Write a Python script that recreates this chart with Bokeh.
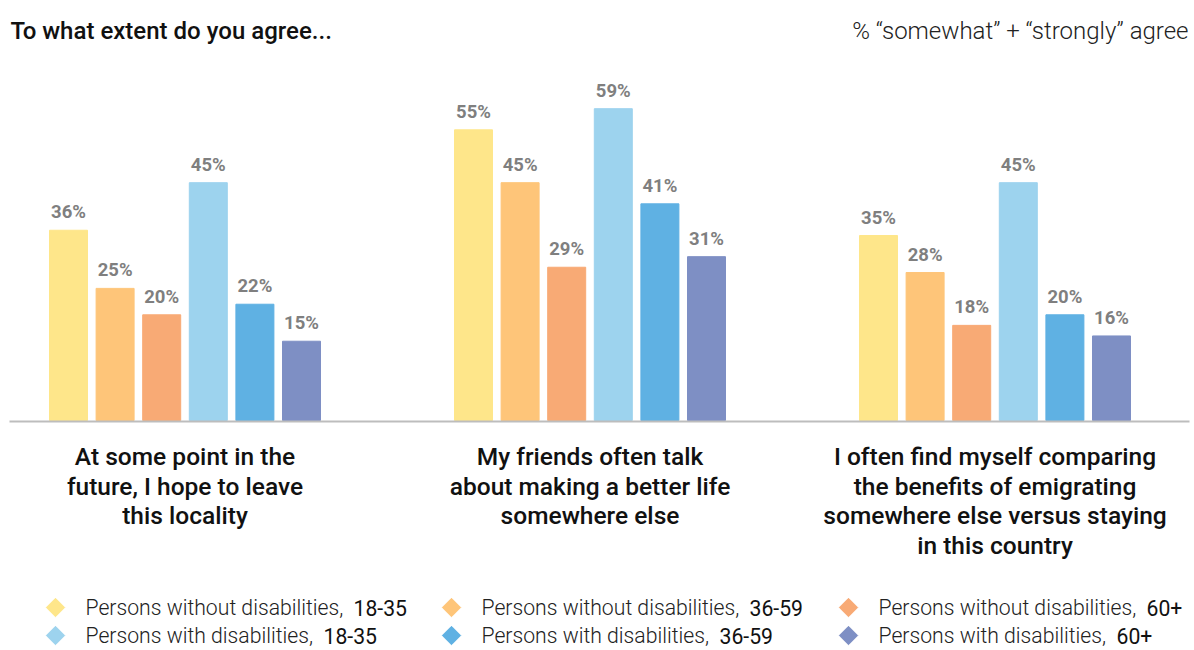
from bokeh.plotting import figure
from bokeh.models import ColumnDataSource, Range1d
from bokeh.core.properties import value
from bokeh.embed import file_html
from bokeh.resources import INLINE
import math

# ---------------- data ----------------
title = "To what extent do you agree..."
subtitle = "% \u201csomewhat\u201d + \u201cstrongly\u201d agree"
categories = [
    ["At some point in the", "future, I hope to leave", "this locality"],
    ["My friends often talk", "about making a better life", "somewhere else"],
    ["I often find myself comparing", "the benefits of emigrating",
     "somewhere else versus staying", "in this country"],
]
series_names = [
    ("Persons without disabilities, ", "18-35"),
    ("Persons without disabilities, ", "36-59"),
    ("Persons without disabilities, ", "60+"),
    ("Persons with disabilities, ", "18-35"),
    ("Persons with disabilities, ", "36-59"),
    ("Persons with disabilities, ", "60+"),
]
without_18_35 = [36, 55, 35]
without_36_59 = [25, 45, 28]
without_60p = [20, 29, 18]
with_18_35 = [45, 59, 45]
with_36_59 = [22, 41, 20]
with_60p = [15, 31, 16]
series_values = [without_18_35, without_36_59, without_60p,
                 with_18_35, with_36_59, with_60p]
colors = ["#FEE68A", "#FEC579", "#F8AA75", "#9DD3EE", "#5FB1E3", "#7E8FC4"]

# ---------------- layout helpers ----------------
W, H = 1194, 650
G0 = 184.5      # pixel x of first group center
PX = 405.0      # pixels per group
BASE = 420.0    # pixel y of 0%
PPP = 5.285     # pixels per percent
PITCH = 46.6 / PX
BAR_W = 38.0 / PX


def X(sx):
    return (sx - G0) / PX


def Y(sy):
    return (BASE - sy) / PPP


p = figure(width=W, height=H, output_backend="svg", toolbar_location=None,
           x_range=Range1d(X(0), X(W)), y_range=Range1d(Y(H), Y(0)),
           x_axis_location=None, y_axis_location=None, min_border=0,
           outline_line_color=None, background_fill_color="white",
           border_fill_color="white")
p.grid.visible = False

# bars
xs, tops, cols, labels = [], [], [], []
for si, vals in enumerate(series_values):
    for gi, v in enumerate(vals):
        xs.append(gi + (si - 2.5) * PITCH)
        tops.append(v)
        cols.append(colors[si])
        labels.append(f"{v}%")
src = ColumnDataSource(dict(x=xs, top=tops, color=cols, label=labels))
p.vbar(x="x", top="top", bottom=0, width=BAR_W, color="color", source=src)
p.text(x="x", y="top", text="label", source=src, text_align="center",
       text_baseline="middle", y_offset=-18, text_color="#7f7f7f",
       text_font=value("Roboto"), text_font_style="bold",
       text_font_size="18.5px")

# baseline
p.segment(x0=[X(9)], y0=[Y(421)], x1=[X(1189)], y1=[Y(421)],
          line_color="#bdbdbd", line_width=2)

# title & subtitle
p.text(x=[X(10)], y=[Y(30)], text=[title], text_align="left",
       text_baseline="middle", text_color="#111111",
       text_font=value("Roboto Medium, Roboto"), text_font_size="24px")
p.text(x=[X(1188)], y=[Y(30)], text=[subtitle], text_align="right",
       text_baseline="middle", text_color="#222222",
       text_font=value("Roboto Light, Roboto"), text_font_size="24px")

# category labels
cx, cy, ct = [], [], []
for gi, lines in enumerate(categories):
    for li, line in enumerate(lines):
        cx.append(gi)
        cy.append(Y(456 + li * 29.5))
        ct.append(line)
p.text(x=cx, y=cy, text=ct, text_align="center", text_baseline="middle",
       text_color="#111111", text_font=value("Roboto Medium, Roboto"),
       text_font_size="24.5px")

# legend
col_x = [55, 451, 848]
row_y = [607, 635]
light_w = {"Persons without disabilities, ": 268,
           "Persons with disabilities, ": 238}
mx, my, mc = [], [], []
tx, ty, tt = [], [], []
bx, by, bt = [], [], []
for si, (name, age) in enumerate(series_names):
    c = si % 3
    r = si // 3
    mx.append(X(col_x[c]))
    my.append(Y(row_y[r]))
    mc.append(colors[si])
    tx.append(X(col_x[c] + 30))
    ty.append(Y(row_y[r]))
    tt.append(name)
    bx.append(X(col_x[c] + 30 + light_w[name]))
    by.append(Y(row_y[r]))
    bt.append(age)
p.scatter(x=mx, y=my, marker="square", size=13, angle=math.pi / 4,
          color=mc)
p.text(x=tx, y=ty, text=tt, text_align="left", text_baseline="middle",
       text_color="#222222", text_font=value("Roboto Light, Roboto"),
       text_font_size="21.2px")
p.text(x=bx, y=by, text=bt, text_align="left", text_baseline="middle",
       text_color="#111111", text_font=value("Roboto"),
       text_font_size="21.2px")

open("out.html", "w").write(file_html(p, INLINE))
